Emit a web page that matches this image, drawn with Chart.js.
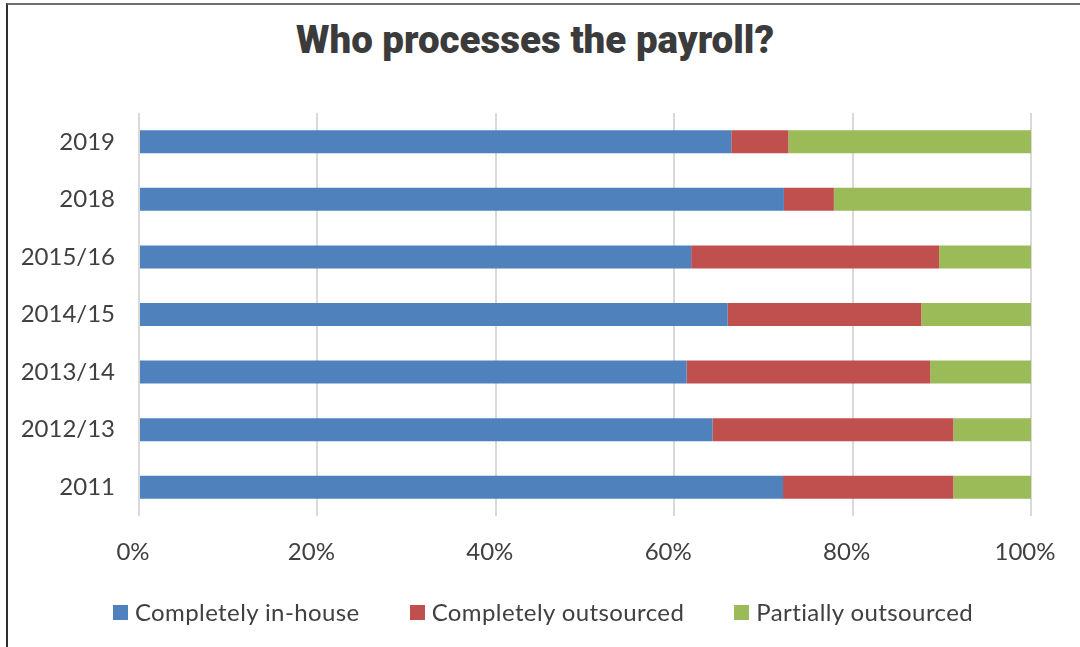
<!DOCTYPE html>
<html>
<head>
<meta charset="utf-8">
<script src="https://cdn.jsdelivr.net/npm/chart.js@4/dist/chart.umd.min.js"></script>
<style>
  html, body { margin: 0; padding: 0; background: #fff; }
  #wrap { position: relative; width: 1080px; height: 647px; overflow: hidden; }
  #frame {
    position: absolute; left: 6px; top: 3px; width: 1100px; height: 700px;
    border-top: 2px solid #6e6e6e; border-left: 2px solid #2e2e2e; box-sizing: border-box;
  }
  #title {
    position: absolute; left: 0; width: 1070px; top: 21px; text-align: center;
    font-family: Roboto, sans-serif; font-weight: 900; font-size: 38.5px; line-height: 1;
    color: #3b3b3b; white-space: nowrap;
  }
  #legend {
    position: absolute; left: 0; width: 1086px; top: 600px; height: 24px;
    display: flex; justify-content: center; align-items: center; gap: 50px;
    font-family: Lato, sans-serif; font-size: 24px; line-height: 1; color: #404040;
    letter-spacing: 0.4px;
  }
  #legend .item { display: flex; align-items: center; white-space: nowrap; }
  #legend .box { width: 15px; height: 15px; margin-right: 7px; }
  canvas { position: absolute; left: 0; top: 0; }
</style>
</head>
<body>
<div id="wrap">
  <div id="frame"></div>
  <div id="title">Who processes the payroll?</div>
  <canvas id="chart" width="1080" height="647"></canvas>
  <div id="legend"></div>
</div>
<script>
// Survey years, top to bottom
const years = ['2019', '2018', '2015/16', '2014/15', '2013/14', '2012/13', '2011'];

// Share of respondents (%) per year
const inHouse     = [66.4, 72.3, 61.9, 66.0, 61.4, 64.3, 72.2];
const outsourced  = [6.4, 5.6, 27.8, 21.7, 27.3, 27.0, 19.1];
const partially   = [27.2, 22.1, 10.3, 12.3, 11.3, 8.7, 8.7];

const seriesNames = ['Completely in-house', 'Completely outsourced', 'Partially outsourced'];
const seriesColors = ['#4F81BD', '#C0504D', '#9BBB59'];

// Percentage axis ticks
const pctTicks = [0, 20, 40, 60, 80, 100];

const tickFont = { family: 'Lato', size: 24 };
const tickColor = '#404040';

const chart = new Chart(document.getElementById('chart'), {
  type: 'bar',
  data: {
    labels: years,
    datasets: [inHouse, outsourced, partially].map((values, i) => ({
      label: seriesNames[i],
      data: values,
      backgroundColor: seriesColors[i],
      borderWidth: 0,
      barPercentage: 0.4,
      categoryPercentage: 1.0
    }))
  },
  options: {
    indexAxis: 'y',
    responsive: false,
    animation: false,
    layout: { padding: { left: 0, right: 49, top: 113, bottom: 71 } },
    plugins: {
      legend: { display: false },
      title: { display: false },
      tooltip: { enabled: false }
    },
    scales: {
      x: {
        stacked: true,
        min: 0,
        max: 100,
        afterBuildTicks: (scale) => { scale.ticks = pctTicks.map(v => ({ value: v })); },
        afterFit: (scale) => {
          scale.height = 60;
          scale.paddingLeft = 0;
          scale.paddingRight = 0;
        },
        grid: { color: '#d9d9d9', lineWidth: 2, drawTicks: false },
        border: { display: false },
        ticks: {
          padding: 22,
          labelOffset: -6,
          maxRotation: 0,
          font: tickFont,
          color: tickColor,
          callback: (v) => v + '%'
        }
      },
      y: {
        stacked: true,
        afterFit: (scale) => {
          scale.width = 139;
          scale.paddingTop = 0;
          scale.paddingBottom = 0;
        },
        grid: { display: false, drawTicks: false },
        border: { display: false },
        ticks: { padding: 24, font: tickFont, color: tickColor }
      }
    }
  }
});

// Legend built from the chart's own datasets
const legendEl = document.getElementById('legend');
chart.data.datasets.forEach((ds) => {
  const item = document.createElement('div');
  item.className = 'item';
  const box = document.createElement('span');
  box.className = 'box';
  box.style.background = ds.backgroundColor;
  const txt = document.createElement('span');
  txt.textContent = ds.label;
  item.appendChild(box);
  item.appendChild(txt);
  legendEl.appendChild(item);
});
</script>
</body>
</html>
